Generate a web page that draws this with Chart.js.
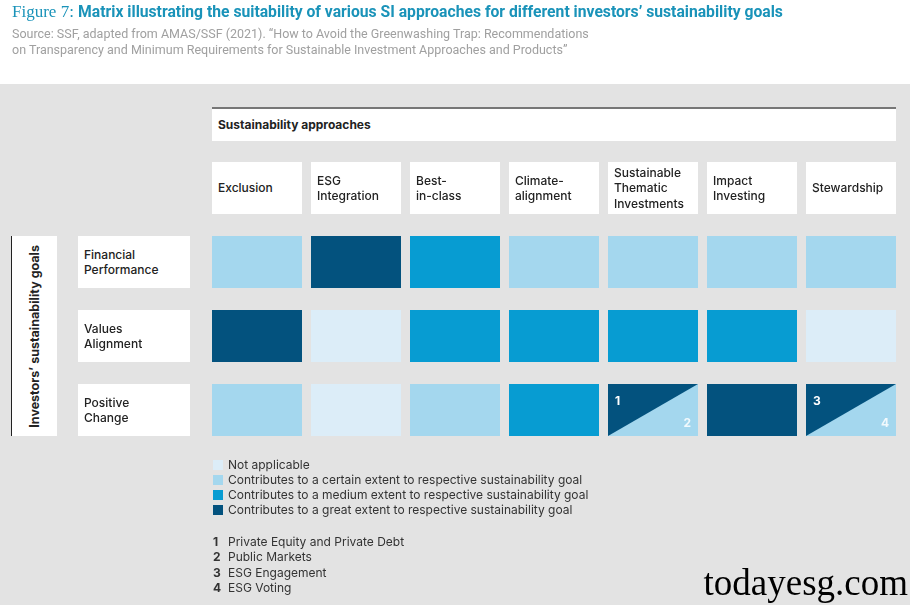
<!DOCTYPE html>
<html><head><meta charset="utf-8">
<script src="https://cdn.jsdelivr.net/npm/chart.js@4.4.1/dist/chart.umd.min.js"></script>
<style>
html,body{margin:0;padding:0;}
body{width:910px;height:605px;position:relative;overflow:hidden;background:#fff;font-family:Inter,"Open Sans",sans-serif;color:#222;}
#gray{position:absolute;left:0;top:84px;width:910px;height:521px;background:#e3e3e3;}
#c{position:absolute;left:0;top:0;}
.abs{position:absolute;white-space:nowrap;}
#title{left:12px;top:2px;font-family:Roboto,sans-serif;font-size:15.7px;color:#1a93b9;font-weight:700;}
#title .fig{font-family:"Liberation Serif",serif;font-weight:400;font-size:17px;}
#source{left:12px;top:26px;font-family:Roboto,sans-serif;font-size:12.5px;color:#a0a0a0;line-height:16px;}
.box{position:absolute;background:#fff;display:flex;align-items:center;box-sizing:border-box;padding-left:6px;font-size:12px;font-weight:500;line-height:15.5px;color:#222;white-space:nowrap;}
#approachHdr{font-weight:700;border-top:2px solid #777;}
#goalHdr{border-left:1.5px solid #222;padding:0;justify-content:center;}
#goalHdr span{writing-mode:vertical-rl;transform:rotate(180deg);font-weight:700;font-size:12.5px;}
.leg{position:absolute;left:213px;font-size:12px;line-height:15px;color:#333;white-space:nowrap;}
.sw{display:inline-block;width:10px;height:10px;margin-right:5px;vertical-align:-1px;}
.num{display:inline-block;width:15px;font-weight:700;}
#wm{right:2px;top:561px;font-family:"Liberation Serif",serif;font-size:37px;color:#000;}
</style></head>
<body>
<div id="gray"></div>
<canvas id="c" width="910" height="605"></canvas>
<div id="title" class="abs"><span class="fig">Figure 7: </span>Matrix illustrating the suitability of various SI approaches for different investors’ sustainability goals</div>
<div id="source" class="abs">Source: SSF, adapted from AMAS/SSF (2021). “How to Avoid the Greenwashing Trap: Recommendations<br>on Transparency and Minimum Requirements for Sustainable Investment Approaches and Products”</div>
<div id="labels"></div>
<div id="wm" class="abs">todayesg.com</div>
<script>
// ---- data ----
const approachesTitle = 'Sustainability approaches';
const goalsTitle = 'Investors’ sustainability goals';
const approaches = [['Exclusion'], ['ESG', 'Integration'], ['Best-', 'in-class'], ['Climate-', 'alignment'], ['Sustainable', 'Thematic', 'Investments'], ['Impact', 'Investing'], ['Stewardship']];
const goals = [['Financial', 'Performance'], ['Values', 'Alignment'], ['Positive', 'Change']];
// levels: 0 = not applicable, 1 = certain, 2 = medium, 3 = great; [upper, lower] = split cell
const financialPerformance = [1, 3, 2, 1, 1, 1, 1];
const valuesAlignment = [3, 0, 2, 2, 2, 2, 0];
const positiveChange = [1, 0, 1, 2, [3, 1], 3, [3, 1]];
const positiveChangeNotes = [null, null, null, null, ['1', '2'], null, ['3', '4']];
const levelNames = ['Not applicable', 'Contributes to a certain extent to respective sustainability goal', 'Contributes to a medium extent to respective sustainability goal', 'Contributes to a great extent to respective sustainability goal'];
const noteNumbers = ['1', '2', '3', '4'];
const noteTexts = ['Private Equity and Private Debt', 'Public Markets', 'ESG Engagement', 'ESG Voting'];

// ---- styles ----
const levelColors = ['#dcedf8', '#a4d7ee', '#079cd2', '#03527e'];
const rows = [financialPerformance, valuesAlignment, positiveChange];
const rowNotes = [[], [], positiveChangeNotes];
const PAD = 11 / 74;

const datasets = rows.map((vals, r) => ({
  label: goals[r].join(' '),
  data: vals.map(() => [r + PAD, r + 1 - PAD]),
  levels: vals,
  notes: rowNotes[r],
  backgroundColor: vals.map(v => levelColors[Array.isArray(v) ? v[1] : v]),
  borderWidth: 0,
  grouped: false,
  barPercentage: 90 / 99,
  categoryPercentage: 1
}));

const splitPlugin = {
  id: 'split',
  afterDatasetsDraw(chart) {
    const ctx = chart.ctx;
    chart.data.datasets.forEach((ds, di) => {
      const meta = chart.getDatasetMeta(di);
      ds.levels.forEach((v, i) => {
        if (!Array.isArray(v)) return;
        const el = meta.data[i];
        const l = el.x - el.width / 2, r = el.x + el.width / 2;
        const t = Math.min(el.y, el.base), b = Math.max(el.y, el.base);
        ctx.save();
        ctx.fillStyle = levelColors[v[0]];
        ctx.beginPath();
        ctx.moveTo(l, t); ctx.lineTo(r, t); ctx.lineTo(l, b); ctx.closePath();
        ctx.fill();
        const n = ds.notes[i];
        if (n) {
          ctx.fillStyle = '#fff';
          ctx.font = '700 12px Inter';
          ctx.textBaseline = 'middle';
          ctx.textAlign = 'left';
          ctx.fillText(n[0], l + 7, t + 17);
          ctx.textAlign = 'right';
          ctx.globalAlpha = 0.85;
          ctx.fillText(n[1], r - 7, b - 13);
        }
        ctx.restore();
      });
    });
  }
};

const chart = new Chart(document.getElementById('c'), {
  type: 'bar',
  data: { labels: approaches.map(a => a.join(' ')), datasets },
  options: {
    responsive: false,
    animation: false,
    devicePixelRatio: 1,
    layout: { padding: { left: 207.5, right: 9.5, top: 225, bottom: 158 } },
    plugins: { legend: { display: false }, tooltip: { enabled: false } },
    scales: {
      x: { type: 'category', offset: true, display: false },
      y: { type: 'linear', min: 0, max: 3, reverse: true, display: false }
    }
  },
  plugins: [splitPlugin]
});

// ---- labels positioned from the chart's scales ----
const L = document.getElementById('labels');
function box(left, top, w, h, html, id) {
  const d = document.createElement('div');
  d.className = 'box';
  if (id) d.id = id;
  d.style.left = left + 'px'; d.style.top = top + 'px';
  d.style.width = w + 'px'; d.style.height = h + 'px';
  d.innerHTML = html;
  L.appendChild(d);
  return d;
}
const m0 = chart.getDatasetMeta(0).data;
const colLeft = i => m0[i].x - m0[i].width / 2;
const colW = m0[0].width;
const firstL = colLeft(0), lastR = colLeft(approaches.length - 1) + colW;
box(firstL, 107, lastR - firstL, 34, approachesTitle, 'approachHdr');
approaches.forEach((a, i) => box(colLeft(i), 162, colW, 52, a.join('<br>')));
const rowTop = r => { const e = chart.getDatasetMeta(r).data[0]; return Math.min(e.y, e.base); };
const rowH = r => { const e = chart.getDatasetMeta(r).data[0]; return Math.abs(e.base - e.y); };
goals.forEach((g, r) => box(78, rowTop(r), 112, rowH(r), g.join('<br>')));
const gTop = rowTop(0), gBot = rowTop(goals.length - 1) + rowH(goals.length - 1);
box(11, gTop, 46, gBot - gTop, '<span>' + goalsTitle + '</span>', 'goalHdr');

// legend
levelNames.forEach((n, i) => {
  const d = document.createElement('div');
  d.className = 'leg';
  d.style.top = (456.5 + i * 15.3) + 'px';
  d.innerHTML = '<span class="sw" style="background:' + levelColors[i] + '"></span>' + n;
  L.appendChild(d);
});
noteTexts.forEach((t, i) => {
  const d = document.createElement('div');
  d.className = 'leg';
  d.style.top = (533.5 + i * 15.6) + 'px';
  d.innerHTML = '<span class="num">' + noteNumbers[i] + '</span>' + t;
  L.appendChild(d);
});
</script>
</body></html>
